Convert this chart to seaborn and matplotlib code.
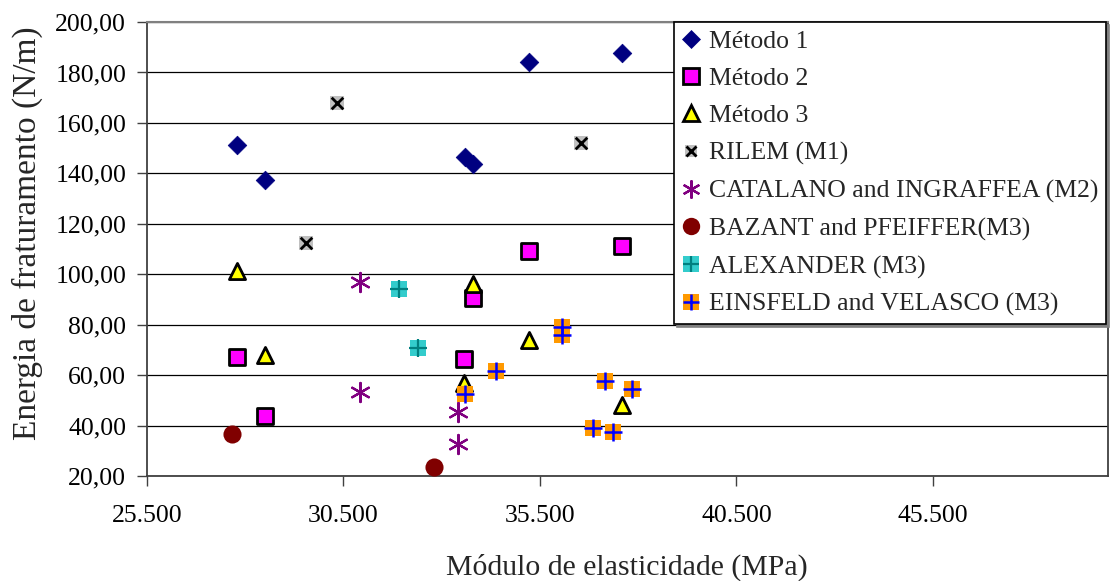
import numpy as np
import seaborn as sns
import matplotlib.pyplot as plt
from matplotlib.lines import Line2D
from matplotlib.legend_handler import HandlerTuple
from matplotlib.ticker import FuncFormatter, MultipleLocator

# Data.
metodo1_x = [27790, 28500, 33590, 33800, 35220, 37590]
metodo1_y = [151.2, 137.4, 146.5, 143.7, 184.1, 187.7]

metodo2_x = [27790, 28500, 33800, 33570, 35220, 37590]
metodo2_y = [67.2, 43.8, 90.4, 66.4, 109.2, 111.2]

metodo3_x = [27790, 28500, 33800, 33570, 35220, 37590]
metodo3_y = [101.3, 68.0, 96.1, 56.9, 73.9, 48.1]

rilem_x = [30340, 29550, 36540]
rilem_y = [167.9, 112.4, 152.0]

catalano_x = [30920, 30920, 33410, 33410]
catalano_y = [96.9, 53.3, 45.4, 32.7]

bazant_x = [27660, 32800]
bazant_y = [36.6, 23.6]

alexander_x = [31910, 32400]
alexander_y = [94.1, 70.7]

einsfeld_x = [33590, 34380, 36060, 36060, 37150, 37840, 36850, 37360]
einsfeld_y = [52.5, 61.6, 79.1, 76.0, 57.7, 54.5, 39.0, 37.4]

labels = ["Método 1", "Método 2", "Método 3", "RILEM (M1)",
          "CATALANO and INGRAFFEA (M2)", "BAZANT and PFEIFFER(M3)",
          "ALEXANDER (M3)", "EINSFELD and VELASCO (M3)"]

sns.set_style("white")
plt.rcParams['font.family'] = ['Liberation Serif', 'DejaVu Serif']

fig = plt.figure(figsize=(11.1, 5.81), dpi=100)
ax = fig.add_axes([0.1324, 0.1807, 0.8656, 0.7814])

asterisk = (6, 2, 0)

# Scatter series.
sns.scatterplot(x=metodo1_x, y=metodo1_y, marker='D', s=90, color='#000080',
                edgecolor='#000080', linewidth=0.5, ax=ax, legend=False, zorder=3)
sns.scatterplot(x=metodo2_x, y=metodo2_y, marker='s', s=125, color='#FF00FF',
                edgecolor='black', linewidth=2, ax=ax, legend=False, zorder=3)
sns.scatterplot(x=metodo3_x, y=metodo3_y, marker='^', s=135, color='#FFFF00',
                edgecolor='black', linewidth=2, ax=ax, legend=False, zorder=3)
sns.scatterplot(x=rilem_x, y=rilem_y, marker='s', s=95, color='#C0C0C0',
                edgecolor='none', linewidth=0, ax=ax, legend=False, zorder=3)
sns.scatterplot(x=rilem_x, y=rilem_y, marker='x', s=70, color='black',
                linewidth=2, ax=ax, legend=False, zorder=4)
sns.scatterplot(x=catalano_x, y=catalano_y, marker=asterisk, s=190, color='#800080',
                linewidth=1.6, ax=ax, legend=False, zorder=3)
sns.scatterplot(x=bazant_x, y=bazant_y, marker='o', s=170, color='#800000',
                edgecolor='#800000', linewidth=0, ax=ax, legend=False, zorder=3)
sns.scatterplot(x=alexander_x, y=alexander_y, marker='s', s=140, color='#33CCCC',
                edgecolor='none', linewidth=0, ax=ax, legend=False, zorder=3)
sns.scatterplot(x=alexander_x, y=alexander_y, marker='+', s=160, color='#008080',
                linewidth=1.6, ax=ax, legend=False, zorder=4)
sns.scatterplot(x=einsfeld_x, y=einsfeld_y, marker='s', s=140, color='#FF9900',
                edgecolor='none', linewidth=0, ax=ax, legend=False, zorder=3)
sns.scatterplot(x=einsfeld_x, y=einsfeld_y, marker='+', s=160, color='#0000FF',
                linewidth=1.8, ax=ax, legend=False, zorder=4)

# Axes, ticks and grid.
ax.set_xlim(25500, 49950)
ax.set_ylim(20, 200)
ax.set_xticks(np.arange(25500, 49000, 5000))
ax.yaxis.set_major_locator(MultipleLocator(20))
ax.xaxis.set_major_formatter(FuncFormatter(lambda v, p: f"{v:,.0f}".replace(',', '.')))
ax.yaxis.set_major_formatter(FuncFormatter(lambda v, p: f"{v:.2f}".replace('.', ',')))
ax.yaxis.grid(True, color='black', linewidth=0.9)
ax.xaxis.grid(False)
ax.tick_params(axis='both', direction='out', length=7, width=1, color='#404040',
               labelsize=18.5, labelcolor='black', left=True, bottom=True)
ax.tick_params(axis='x', pad=14)
ax.tick_params(axis='y', pad=8)
for side in ['left', 'bottom', 'right']:
    ax.spines[side].set_color('#404040')
    ax.spines[side].set_linewidth(1.3)
ax.spines['top'].set_color('#808080')
ax.spines['top'].set_linewidth(1.5)

ax.set_xlabel("Módulo de elasticidade (MPa)", fontsize=21.5, labelpad=19)
ax.set_ylabel("Energia de fraturamento (N/m)", fontsize=24)
ax.yaxis.set_label_coords(-0.108, 0.535)

# Legend.
def mk(marker, size, face, edge, ew):
    return Line2D([], [], linestyle='none', marker=marker, markersize=size,
                  markerfacecolor=face, markeredgecolor=edge, markeredgewidth=ew)

handles = [
    mk('D', 9, '#000080', '#000080', 0.5),
    mk('s', 11, '#FF00FF', 'black', 2),
    mk('^', 11.5, '#FFFF00', 'black', 2),
    (mk('s', 9, '#C0C0C0', 'none', 0), mk('x', 7.5, 'black', 'black', 2)),
    mk(asterisk, 13, '#800080', '#800080', 1.6),
    mk('o', 12.5, '#800000', '#800000', 0),
    (mk('s', 12, '#33CCCC', 'none', 0), mk('+', 12, '#008080', '#008080', 1.6)),
    (mk('s', 12, '#FF9900', 'none', 0), mk('+', 12, '#0000FF', '#0000FF', 1.8)),
]
leg = ax.legend(handles, labels, loc='upper right', bbox_to_anchor=(0.998, 1.0),
                handler_map={tuple: HandlerTuple(ndivide=1, pad=0)},
                fontsize=18.5, frameon=True, fancybox=False,
                shadow={'color': '#808080', 'alpha': 1},
                borderaxespad=0, handlelength=0.7, handletextpad=0.35,
                borderpad=0.3, labelspacing=0.56, framealpha=1)
leg.get_frame().set_edgecolor('black')
leg.get_frame().set_linewidth(1.2)

fig.savefig("out.png", dpi=100)
